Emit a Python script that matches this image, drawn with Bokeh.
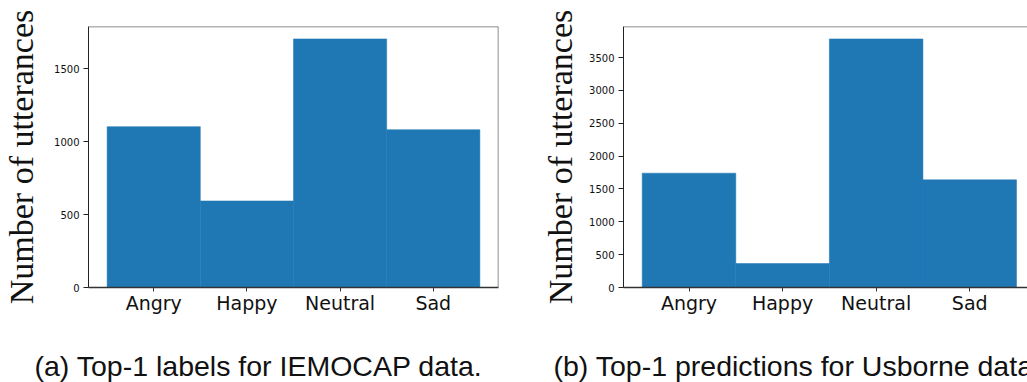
from bokeh.plotting import figure
from bokeh.layouts import row, column
from bokeh.models import Range1d, FixedTicker, Span
from bokeh.core.properties import value
from bokeh.embed import file_html
from bokeh.resources import INLINE

# Emotion categories and utterance counts per data set
categories = ["Angry", "Happy", "Neutral", "Sad"]
iemocap_counts = [1102, 593, 1703, 1081]
usborne_counts = [1741, 365, 3785, 1639]
iemocap_yticks = [0, 500, 1000, 1500]
usborne_yticks = [0, 500, 1000, 1500, 2000, 2500, 3000, 3500]
captions = ["(a) Top-1 labels for IEMOCAP data.",
            "(b) Top-1 predictions for Usborne data."]

BAR_COLOR = "#1f77b4"
TOTAL_WIDTH = 1027
CHART_HEIGHT = 320
CAPTION_HEIGHT = 62
BORDER_TOP = 26
BORDER_BOTTOM = 33


def make_panel(counts, yticks, width, border_left, border_right,
               x_end, label_standoff, right_spine):
    positions = list(range(len(categories)))
    y_end = max(counts) * 1.05
    p = figure(width=width, height=CHART_HEIGHT, output_backend="svg",
               toolbar_location=None,
               x_range=Range1d(-0.7, x_end), y_range=Range1d(0, y_end),
               min_border_left=border_left, min_border_right=border_right,
               min_border_top=BORDER_TOP, min_border_bottom=BORDER_BOTTOM)
    p.vbar(x=positions, top=counts, bottom=0, width=1.0,
           fill_color=BAR_COLOR, line_color=BAR_COLOR, line_width=0.5)

    p.xgrid.visible = False
    p.ygrid.visible = False
    p.outline_line_color = None
    p.background_fill_color = "white"
    p.border_fill_color = "white"

    # top (and optionally right) frame edges
    p.add_layout(Span(location=y_end, dimension="width",
                      line_color="#6a6a6a", line_width=1.5))
    if right_spine:
        p.add_layout(Span(location=x_end, dimension="height",
                          line_color="#6a6a6a", line_width=1.5))

    # y axis
    ya = p.yaxis[0]
    ya.ticker = FixedTicker(ticks=yticks)
    ya.minor_tick_line_color = None
    ya.major_tick_out = 5
    ya.major_tick_in = 0
    ya.axis_line_color = "#222222"
    ya.major_tick_line_color = "#222222"
    ya.major_label_text_font = "DejaVu Sans"
    ya.major_label_text_font_size = "10px"
    ya.major_label_text_color = "#111111"
    ya.major_label_standoff = 4
    ya.axis_label = "Number of utterances"
    ya.axis_label_text_font = "Liberation Serif"
    ya.axis_label_text_font_size = "34px"
    ya.axis_label_text_font_style = "normal"
    ya.axis_label_text_color = "#111111"
    ya.axis_label_standoff = label_standoff

    # x axis with category names
    xa = p.xaxis[0]
    xa.ticker = FixedTicker(ticks=positions)
    xa.major_label_overrides = {i: c for i, c in zip(positions, categories)}
    xa.minor_tick_line_color = None
    xa.major_tick_out = 4
    xa.major_tick_in = 0
    xa.axis_line_color = "#333333"
    xa.axis_line_width = 1.5
    xa.major_tick_line_color = "#333333"
    xa.major_label_text_font = "DejaVu Sans"
    xa.major_label_text_font_size = "19px"
    xa.major_label_text_color = "#111111"
    xa.major_label_standoff = 0
    return p


left = make_panel(iemocap_counts, iemocap_yticks, width=537,
                  border_left=87, border_right=39, x_end=3.7,
                  label_standoff=11, right_spine=True)
right = make_panel(usborne_counts, usborne_yticks, width=TOTAL_WIDTH - 537,
                   border_left=86, border_right=0, x_end=3.6175,
                   label_standoff=7, right_spine=False)

# strip of sub-figure captions under both charts (pixel coordinates)
caption_x = [34, 553]
caption_y = [17, 17]
cap = figure(width=TOTAL_WIDTH, height=CAPTION_HEIGHT, output_backend="svg",
             toolbar_location=None,
             x_range=Range1d(0, TOTAL_WIDTH), y_range=Range1d(0, CAPTION_HEIGHT),
             min_border_left=0, min_border_right=0,
             min_border_top=0, min_border_bottom=0)
cap.axis.visible = False
cap.xgrid.visible = False
cap.ygrid.visible = False
cap.outline_line_color = None
cap.text(x=caption_x, y=caption_y, text=captions,
         text_font=value("Liberation Sans"), text_font_size="28.5px",
         text_baseline="alphabetic", text_align="left", text_color="#111111")

layout = column(row(left, right), cap)
open("out.html", "w").write(file_html(layout, INLINE))
